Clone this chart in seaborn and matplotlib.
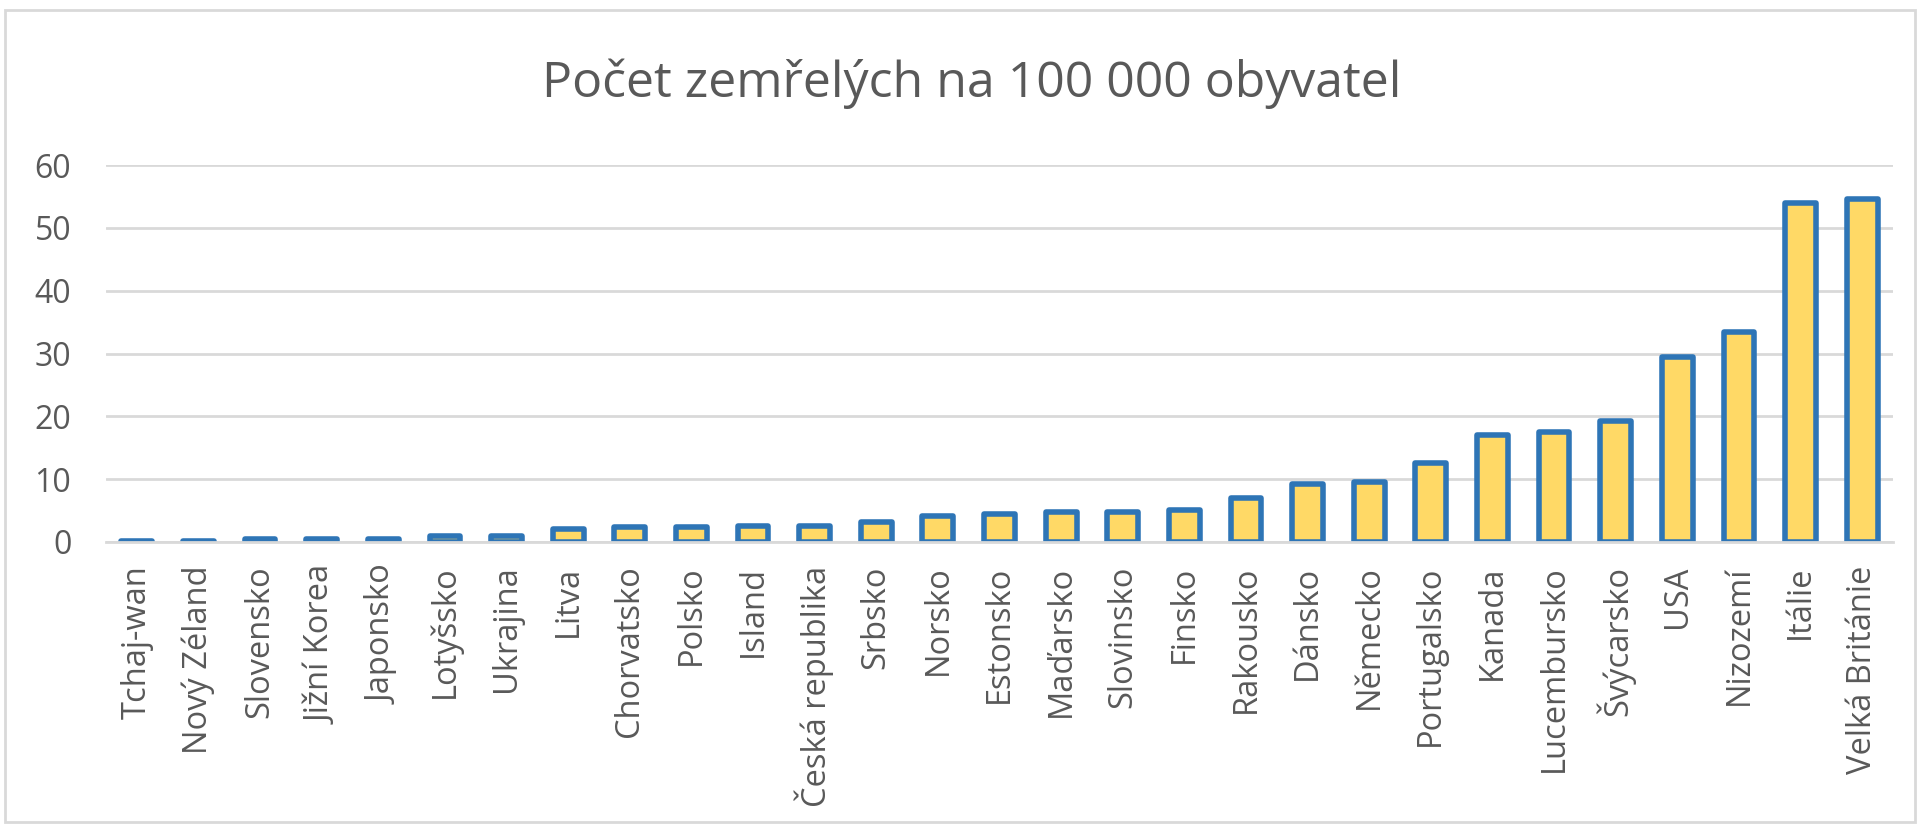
import matplotlib
matplotlib.use('Agg')
import matplotlib.pyplot as plt
from matplotlib.patches import Rectangle
import seaborn as sns
import pandas as pd

# Data
countries = ['Tchaj-wan', 'Nový Zéland', 'Slovensko', 'Jižní Korea', 'Japonsko',
             'Lotyšsko', 'Ukrajina', 'Litva', 'Chorvatsko', 'Polsko', 'Island',
             'Česká republika', 'Srbsko', 'Norsko', 'Estonsko', 'Maďarsko',
             'Slovinsko', 'Finsko', 'Rakousko', 'Dánsko', 'Německo', 'Portugalsko',
             'Kanada', 'Lucembursko', 'Švýcarsko', 'USA', 'Nizozemí', 'Itálie',
             'Velká Británie']
deaths = [0.2, 0.2, 0.5, 0.5, 0.5, 1.0, 1.0, 2.0, 2.4, 2.4, 2.6,
          2.6, 3.2, 4.1, 4.5, 4.8, 4.8, 5.1, 7.0, 9.3, 9.6, 12.5,
          17.0, 17.5, 19.2, 29.5, 33.5, 53.9, 54.6]
yticks = [0, 10, 20, 30, 40, 50, 60]
title = 'Počet zemřelých na 100 000 obyvatel'

df = pd.DataFrame({'zeme': countries, 'pocet': deaths})

text_col = '#595959'
grid_col = '#D9D9D9'

sns.set_style('white')
plt.rcParams['font.family'] = ['Open Sans', 'DejaVu Sans']

fig = plt.figure(figsize=(19.21, 8.26), dpi=100)
ax = fig.add_axes([106 / 1921, 1 - 542 / 826, (1893 - 106) / 1921, (542 - 165) / 826])

sns.barplot(data=df, x='zeme', y='pocet', ax=ax, width=0.5,
            color='#FFD966', edgecolor='#2E75B6', linewidth=4, saturation=1)
for p in ax.patches:
    p.set_joinstyle('round')

ax.set_ylim(0, 60)
ax.set_xlim(-0.5, len(countries) - 0.5)
ax.set_yticks(yticks)
ax.yaxis.grid(True, color=grid_col, linewidth=2)
ax.set_axisbelow(True)
ax.set_xlabel('')
ax.set_ylabel('')
for s in ['top', 'right', 'left']:
    ax.spines[s].set_visible(False)
ax.spines['bottom'].set_color(grid_col)
ax.spines['bottom'].set_linewidth(2)
ax.spines['bottom'].set_zorder(3)

# pads are in points (1 px = 0.72 pt at dpi 100)
ax.tick_params(axis='y', length=0, pad=25, labelsize=23, labelcolor=text_col)
ax.tick_params(axis='x', length=0, pad=17, labelsize=23.5, labelcolor=text_col,
               labelrotation=90)

fig.text(972 / 1921, 1 - 97 / 826, title, ha='center', va='baseline',
         fontsize=36, color=text_col)

# outer chart border
fig.patches.append(Rectangle((5 / 1921, 4 / 826), 1910 / 1921, 812 / 826,
                             transform=fig.transFigure, fill=False,
                             edgecolor=grid_col, linewidth=2))

fig.savefig('out.png', dpi=100, facecolor='white')
